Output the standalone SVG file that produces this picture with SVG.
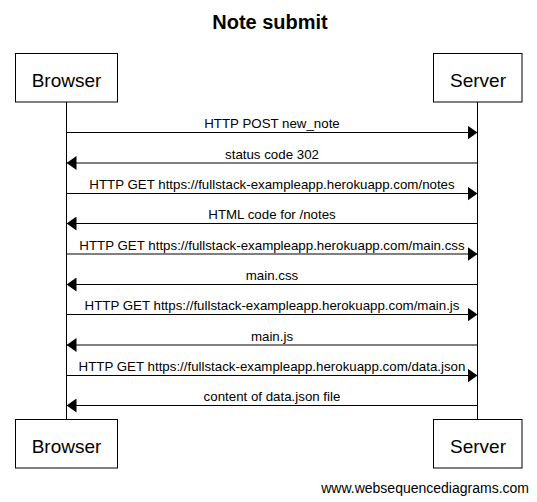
<svg xmlns="http://www.w3.org/2000/svg" width="537" height="502" viewBox="0 0 537 502">
<style>
.box{fill:#fff;stroke:#000;stroke-width:1}
.pt{font-family:"Liberation Sans",Arial,sans-serif;font-size:19px;fill:#000;text-anchor:middle}
.lbl{font-family:"Liberation Sans",Arial,sans-serif;font-size:13.3px;fill:#000;text-anchor:middle}
.msg{stroke:#000;stroke-width:1;fill:none;marker-end:url(#ah)}
.life{stroke:#000;stroke-width:1}
</style>
<defs>
<marker id="ah" viewBox="0 0 10 14" refX="10" refY="7" markerWidth="10" markerHeight="14" markerUnits="userSpaceOnUse" orient="auto">
<path d="M0,0 L10,7 L0,14 z" fill="#000"/>
</marker>
</defs>
<rect width="537" height="502" fill="#fff"/>
<text x="270" y="29" font-family="'Liberation Sans',Arial,sans-serif" font-size="20" font-weight="bold" text-anchor="middle">Note submit</text>
<g id="lifelines">
<line class="life" x1="66.5" y1="102" x2="66.5" y2="419"/>
<line class="life" x1="477.5" y1="102" x2="477.5" y2="419"/>
</g>
<g id="browser-top"><rect class="box" x="15.5" y="53.5" width="102" height="48.5"/><text class="pt" x="66.5" y="86.5">Browser</text></g>
<g id="server-top"><rect class="box" x="433.5" y="53.5" width="88.5" height="48.5"/><text class="pt" x="478" y="86.5">Server</text></g>
<g id="browser-bottom"><rect class="box" x="15.5" y="419.5" width="102" height="48.5"/><text class="pt" x="66.5" y="452.5">Browser</text></g>
<g id="server-bottom"><rect class="box" x="433.5" y="419.5" width="88.5" height="48.5"/><text class="pt" x="478" y="452.5">Server</text></g>
<g id="connectors">
<line class="msg" x1="66.5" y1="132.5" x2="477.5" y2="132.5"/>
<text class="lbl" x="272" y="128">HTTP POST new_note</text>
<line class="msg" x1="477.5" y1="163" x2="66.5" y2="163"/>
<text class="lbl" x="272" y="158.5">status code 302</text>
<line class="msg" x1="66.5" y1="193.5" x2="477.5" y2="193.5"/>
<text class="lbl" x="272" y="189">HTTP GET https://fullstack-exampleapp.herokuapp.com/notes</text>
<line class="msg" x1="477.5" y1="223.5" x2="66.5" y2="223.5"/>
<text class="lbl" x="272" y="219">HTML code for /notes</text>
<line class="msg" x1="66.5" y1="254" x2="477.5" y2="254"/>
<text class="lbl" x="272" y="249.5">HTTP GET https://fullstack-exampleapp.herokuapp.com/main.css</text>
<line class="msg" x1="477.5" y1="284.5" x2="66.5" y2="284.5"/>
<text class="lbl" x="272" y="280">main.css</text>
<line class="msg" x1="66.5" y1="314.5" x2="477.5" y2="314.5"/>
<text class="lbl" x="272" y="310">HTTP GET https://fullstack-exampleapp.herokuapp.com/main.js</text>
<line class="msg" x1="477.5" y1="345" x2="66.5" y2="345"/>
<text class="lbl" x="272" y="340.5">main.js</text>
<line class="msg" x1="66.5" y1="375.5" x2="477.5" y2="375.5"/>
<text class="lbl" x="272" y="371">HTTP GET https://fullstack-exampleapp.herokuapp.com/data.json</text>
<line class="msg" x1="477.5" y1="405.5" x2="66.5" y2="405.5"/>
<text class="lbl" x="272" y="401">content of data.json file</text>
</g>
<text x="529" y="492.5" font-family="'Liberation Sans',Arial,sans-serif" font-size="14" text-anchor="end">www.websequencediagrams.com</text>
</svg>
